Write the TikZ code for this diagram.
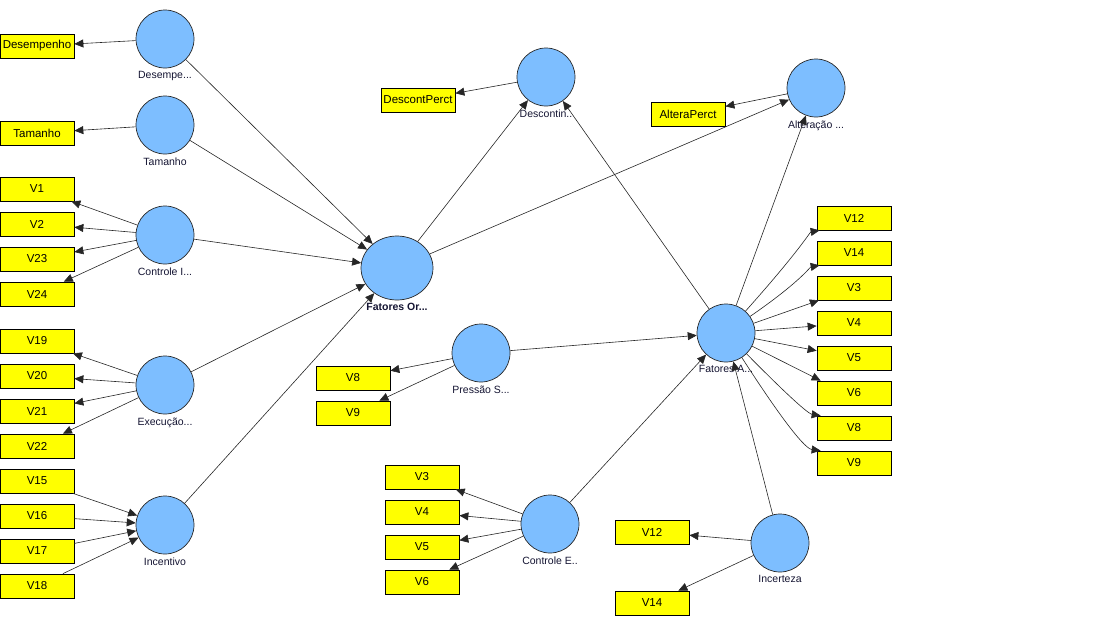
\documentclass[tikz,border=0pt]{standalone}
\usepackage{fontspec}
\setmainfont{Liberation Sans}
\usetikzlibrary{shapes.geometric, arrows.meta}
\definecolor{lvblue}{RGB}{125,190,255}
\definecolor{mvyellow}{RGB}{255,255,0}
\definecolor{lbltext}{RGB}{20,20,50}

\begin{document}
\begin{tikzpicture}[
  x=1pt, y=-1pt,
  label distance=3pt,
  lv/.style={circle,draw=black!85,fill=lvblue,minimum size=58pt,inner sep=0pt,line width=0.7pt},
  mv/.style={draw=black,fill=mvyellow,minimum width=74pt,minimum height=24pt,
             inner sep=0pt,font=\fontsize{11.5}{13}\selectfont,line width=0.7pt},
  lbl/.style={font=\fontsize{10.5}{12}\selectfont,inner sep=0pt,text=lbltext},
  arr/.style={-{Triangle[length=9pt,width=8pt]},line width=0.6pt,color=black!85}
]
  \useasboundingbox (0,0) rectangle (1115,624);

  % latent variables
  \node[lv,label={[lbl]below:Desempe...}] (dese) at (165,39) {};
  \node[lv,label={[lbl]below:Tamanho}] (tama) at (165,125) {};
  \node[lv,label={[lbl]below:Controle I...}] (ctli) at (165,235) {};
  \node[lv,label={[lbl]below:Execução...}] (exec) at (165,385) {};
  \node[lv,label={[lbl]below:Incentivo}] (ince) at (165,525) {};
  \node[lv,ellipse,minimum width=72pt,minimum height=64pt,
        label={[lbl,font=\fontsize{10.5}{12}\selectfont\bfseries]below:Fatores Or...}] (fator) at (397,268) {};
  \node[lv,label={[lbl]below:Descontin..}] (desc) at (546,77) {};
  \node[lv,label={[lbl]below:Alteração ...}] (alte) at (816,88) {};
  \node[lv,label={[lbl]below:Fatores A...}] (fata) at (726,333) {};
  \node[lv,label={[lbl]below:Pressão S...}] (pres) at (481,353) {};
  \node[lv,label={[lbl]below:Controle E..}] (ctle) at (550,524) {};
  \node[lv,label={[lbl]below:Incerteza}] (incz) at (780,543) {};

  % indicators
  \foreach \n/\t/\x/\y in {bdese/Desempenho/37/46,btama/Tamanho/37/133,
      v1/V1/37/189,v2/V2/37/224,v23/V23/37/259,v24/V24/37/294,
      v19/V19/37/341,v20/V20/37/376,v21/V21/37/411,v22/V22/37/446,
      v15/V15/37/481,v16/V16/37/516,v17/V17/37/551,v18/V18/37/586,
      bdesc/DescontPerct/418/100,balte/AlteraPerct/688/114,
      a12/V12/854/218,a14/V14/854/253,a3/V3/854/288,a4/V4/854/323,
      a5/V5/854/358,a6/V6/854/393,a8/V8/854/428,a9/V9/854/463,
      p8/V8/353/378,p9/V9/353/413,
      e3/V3/422/477,e4/V4/422/512,e5/V5/422/547,e6/V6/422/582,
      i12/V12/652/532,i14/V14/652/603}
    \node[mv] (\n) at (\x,\y) {\t};

  % outer model
  \foreach \a/\b in {dese/bdese,tama/btama,ctli/v1,ctli/v2,ctli/v23,ctli/v24,
      exec/v19,exec/v20,exec/v21,exec/v22,v15/ince,v16/ince,v17/ince,v18/ince,
      desc/bdesc,alte/balte,pres/p8,pres/p9,ctle/e3,ctle/e4,ctle/e5,ctle/e6,
      incz/i12,incz/i14,fata/a3,fata/a4,fata/a5}
    \draw[arr] (\a) -- (\b);
  \draw[arr] (fata) .. controls (800,250) and (810,232) .. ([xshift=3pt]a12.south west);
  \draw[arr] (fata) .. controls (800,282) and (810,267) .. ([xshift=3pt]a14.south west);
  \draw[arr] (fata) -- ([xshift=4pt]a6.north west);
  \draw[arr] (fata) .. controls (800,408) and (810,414) .. ([xshift=4pt]a8.north west);
  \draw[arr] (fata) .. controls (795,440) and (808,449) .. ([xshift=4pt]a9.north west);

  % inner model
  \foreach \a/\b in {dese/fator,tama/fator,ctli/fator,exec/fator,ince/fator,
      fator/desc,fator/alte,fata/desc,fata/alte,pres/fata,ctle/fata,incz/fata}
    \draw[arr] (\a) -- (\b);
\end{tikzpicture}
\end{document}
